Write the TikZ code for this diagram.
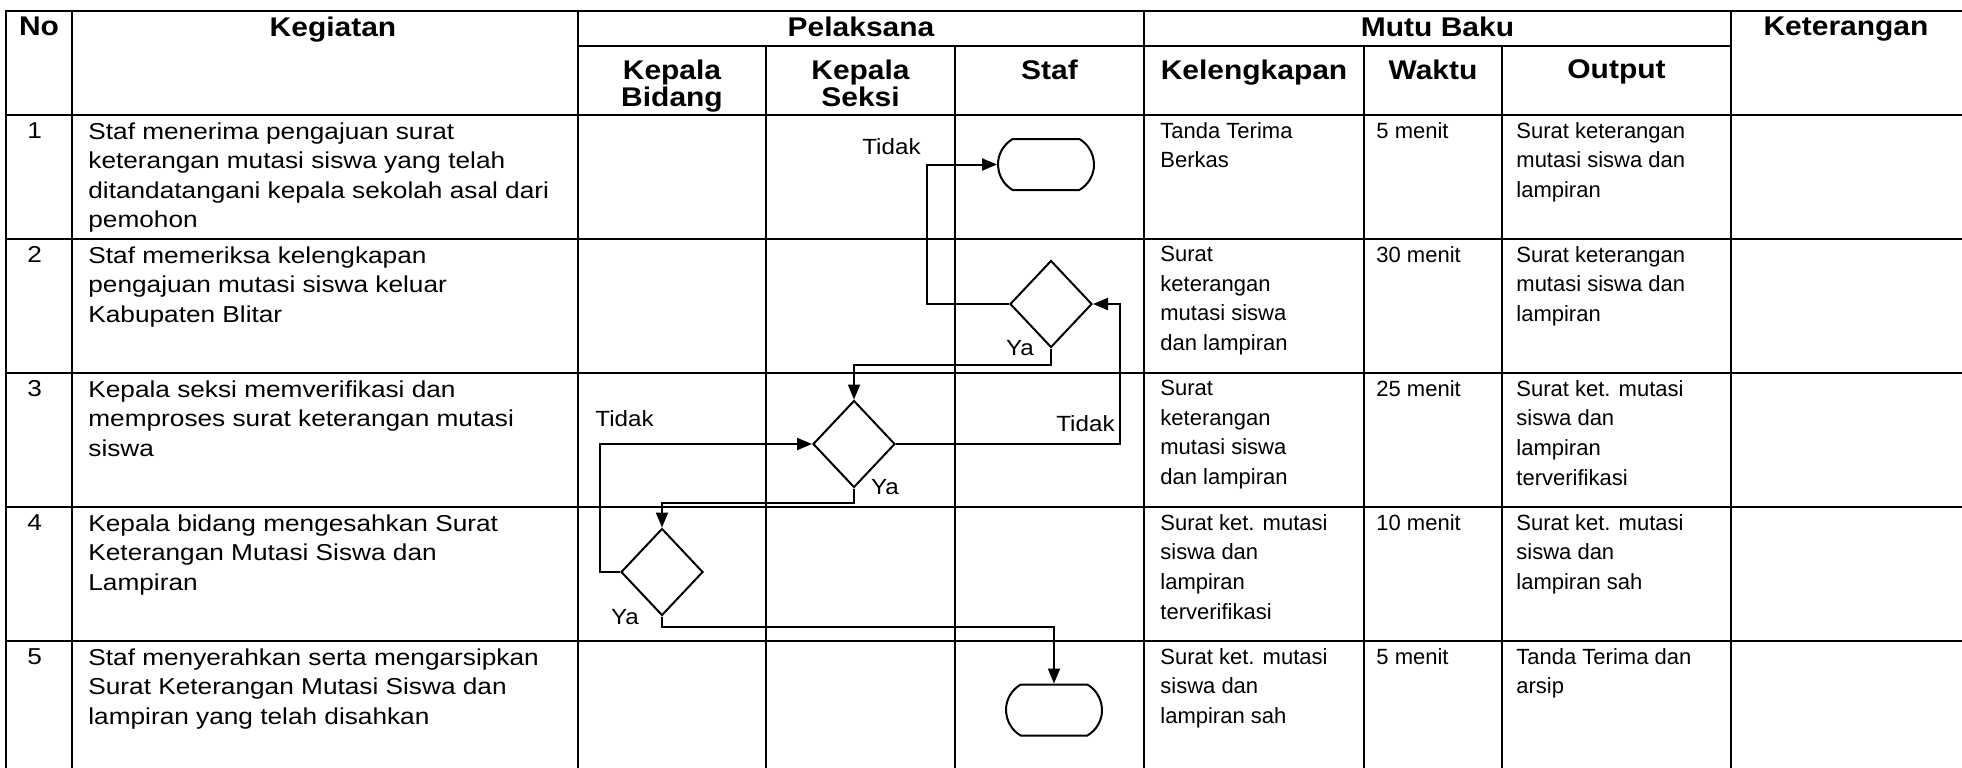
\documentclass[tikz,border=0pt]{standalone}
\usepackage{fontspec}
\setmainfont{Liberation Sans}
\newfontfamily\kegfont[FakeStretch=1.14]{Liberation Sans}
\newfontfamily\judulfont[FakeStretch=1.11]{Liberation Sans}
\newfontfamily\labelfont[FakeStretch=1.1]{Liberation Sans}
\usetikzlibrary{calc}
\usetikzlibrary{arrows.meta}
\usetikzlibrary{shapes.geometric,shapes.misc}

\tikzset{
  garis/.style={black, line width=1.2pt, line cap=rect},
  judul/.style={anchor=north, inner sep=0, align=center, font=\judulfont\bfseries\fontsize{13.5}{13.5}\selectfont},
  isi/.style={anchor=north west, inner sep=0, align=left, font=\fontsize{11}{14.8}\selectfont},
  kegiatan/.style={isi, font=\kegfont\fontsize{11.5}{14.8}\selectfont},
  ket/.style={inner sep=0, font=\labelfont\fontsize{11}{11}\selectfont},
  terminal/.style={draw, line width=1pt, rounded rectangle, rounded rectangle arc length=120, minimum width=48pt, minimum height=25.5pt, inner sep=0},
  keputusan/.style={draw, line width=1pt, diamond, minimum width=41pt, minimum height=43.5pt, inner sep=0},
  alur/.style={line width=1pt, -{Triangle[length=7.5pt,width=6pt]}}
}

\begin{document}
\begin{tikzpicture}[x=0.5pt, y=-0.5pt]
\useasboundingbox (0,0) rectangle (1962,767);

% tabel
\foreach \y in {11,115,239,373,507,641} \draw[garis] (6,\y) -- (1962,\y);
\foreach \x in {6,72,578,1144,1731} \draw[garis] (\x,11) -- (\x,767);
\foreach \x in {766,955,1364,1502} \draw[garis] (\x,46) -- (\x,767);
\draw[garis] (578,46) -- (1731,46);

% kepala tabel
\node[judul] (hno) at (39,17) {No};
\node[judul] (hkeg) at (333,17) {Kegiatan};
\node[judul] (hpel) at (861,17) {Pelaksana};
\node[judul] (hmutu) at (1437.5,17) {Mutu Baku};
\node[judul] (hket) at (1846,17) {Keterangan};
\node[judul] (hkabid) at (672,59.5) {Kepala\\Bidang};
\node[judul] (hkasi) at (860.5,59.5) {Kepala\\Seksi};
\node[judul] (hstaf) at (1049.5,59.5) {Staf};
\node[judul] (hkel) at (1254,59.5) {Kelengkapan};
\node[judul] (hwaktu) at (1433,59.5) {Waktu};
\node[judul] (hout) at (1616.5,59.5) {Output};

% baris 1
\node[kegiatan] (no1) at (27,122) {1};
\node[kegiatan] (keg1) at (88,122) {Staf menerima pengajuan surat\\keterangan mutasi siswa yang telah\\ditandatangani kepala sekolah asal dari\\pemohon};
\node[isi] (kel1) at (1160,122) {Tanda Terima\\Berkas};
\node[isi] (wkt1) at (1376,122) {5 menit};
\node[isi] (out1) at (1516,122) {Surat keterangan\\mutasi siswa dan\\lampiran};

% baris 2
\node[kegiatan] (no2) at (27,246) {2};
\node[kegiatan] (keg2) at (88,246) {Staf memeriksa kelengkapan\\pengajuan mutasi siswa keluar\\Kabupaten Blitar};
\node[isi] (kel2) at (1160,246) {Surat\\keterangan\\mutasi siswa\\dan lampiran};
\node[isi] (wkt2) at (1376,246) {30 menit};
\node[isi] (out2) at (1516,246) {Surat keterangan\\mutasi siswa dan\\lampiran};

% baris 3
\node[kegiatan] (no3) at (27,380) {3};
\node[kegiatan] (keg3) at (88,380) {Kepala seksi memverifikasi dan\\memproses surat keterangan mutasi\\siswa};
\node[isi] (kel3) at (1160,380) {Surat\\keterangan\\mutasi siswa\\dan lampiran};
\node[isi] (wkt3) at (1376,380) {25 menit};
\node[isi] (out3) at (1516,380) {Surat ket. mutasi\\siswa dan\\lampiran\\terverifikasi};

% baris 4
\node[kegiatan] (no4) at (27,514) {4};
\node[kegiatan] (keg4) at (88,514) {Kepala bidang mengesahkan Surat\\Keterangan Mutasi Siswa dan\\Lampiran};
\node[isi] (kel4) at (1160,514) {Surat ket. mutasi\\siswa dan\\lampiran\\terverifikasi};
\node[isi] (wkt4) at (1376,514) {10 menit};
\node[isi] (out4) at (1516,514) {Surat ket. mutasi\\siswa dan\\lampiran sah};

% baris 5
\node[kegiatan] (no5) at (27,648) {5};
\node[kegiatan] (keg5) at (88,648) {Staf menyerahkan serta mengarsipkan\\Surat Keterangan Mutasi Siswa dan\\lampiran yang telah disahkan};
\node[isi] (kel5) at (1160,648) {Surat ket. mutasi\\siswa dan\\lampiran sah};
\node[isi] (wkt5) at (1376,648) {5 menit};
\node[isi] (out5) at (1516,648) {Tanda Terima dan\\arsip};

% bagan alir
\node[terminal] (mulai) at (1046,164.5) {};
\node[keputusan] (cek) at (1051,304) {};
\node[keputusan] (verif) at (854,444) {};
\node[keputusan] (sah) at (662,572) {};
\node[terminal] (selesai) at (1054,710) {};

\draw[alur] (cek.west) -- ++(-82,0) |- (mulai.west);
\draw[alur] (cek.south) -- ++(0,16) -| (verif.north);
\draw[alur] (verif.east) -- ++(224,0) |- (cek.east);
\draw[alur] (verif.south) -- ++(0,14.5) -| (sah.north);
\draw[alur] (sah.west) -- ++(-20,0) |- (verif.west);
\draw[alur] (sah.south) -- ++(0,10) -| (selesai.north);

\node[ket, anchor=east] (tidak1) at (921,147) {Tidak};
\node[ket] (ya1) at (1020,348) {Ya};
\node[ket, anchor=east] (tidak2) at (1115,424) {Tidak};
\node[ket] (ya2) at (885,487) {Ya};
\node[ket, anchor=west] (tidak3) at (595,419) {Tidak};
\node[ket] (ya3) at (625,617) {Ya};
\end{tikzpicture}
\end{document}
